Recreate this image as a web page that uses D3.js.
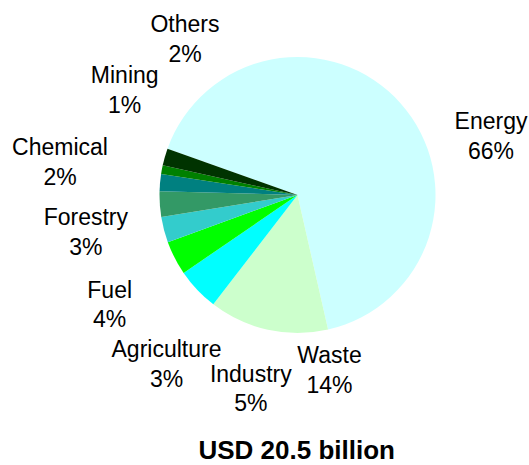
<!DOCTYPE html>
<html>
<head>
<meta charset="utf-8">
<script src="https://cdn.jsdelivr.net/npm/d3@7/dist/d3.min.js"></script>
<style>
  html, body { margin: 0; padding: 0; background: #fff; }
  svg { display: block; }
  text { font-family: Arial, "Liberation Sans", Helvetica, sans-serif; fill: #000; }
</style>
</head>
<body>
<svg id="chart" width="529" height="465"></svg>
<script>
// Sectors and their share of the total (percent)
const sectors = ["Energy", "Waste", "Industry", "Fuel", "Agriculture", "Forestry", "Chemical", "Mining", "Others"];
const shares  = [66, 14, 5, 4, 3, 3, 2, 1, 2];
const colors  = ["#CCFFFF", "#CCFFCC", "#00FFFF", "#00FF00", "#33CCCC", "#339966", "#008080", "#008000", "#003300"];
const totalLabel = "USD 20.5 billion";

// Label anchors (centre x, first baseline y) relative to the pie centre
const labelOffsets = [
  [193.5, -65.7], [32, 168.3], [-46.7, 186.7], [-187.8, 102.7], [-131, 162.3],
  [-211.7, 30], [-237.5, -40], [-172.8, -111.7], [-112.5, -162.7]
];

const W = 529, H = 465;
const cx = 297.5, cy = 195, R = 138;
const lineGap = 29.7;

const svg = d3.select("#chart");
const g = svg.append("g").attr("transform", `translate(${cx},${cy})`);

const data = sectors.map((s, i) => ({ name: s, value: shares[i], color: colors[i], off: labelOffsets[i] }));

const pie = d3.pie()
  .sort(null)
  .value(d => d.value)
  .startAngle(-70.4 * Math.PI / 180)
  .endAngle(-70.4 * Math.PI / 180 + 2 * Math.PI);

const arc = d3.arc().innerRadius(0).outerRadius(R);

g.selectAll("path.slice")
  .data(pie(data))
  .join("path")
  .attr("class", "slice")
  .attr("d", arc)
  .attr("fill", d => d.data.color);

const labels = g.selectAll("text.lbl")
  .data(data)
  .join("text")
  .attr("class", "lbl")
  .attr("text-anchor", "middle")
  .attr("font-size", 23)
  .attr("transform", d => `translate(${d.off[0]},${d.off[1]})`);

labels.append("tspan").attr("x", 0).attr("y", 0).text(d => d.name);
labels.append("tspan").attr("x", 0).attr("y", lineGap).text(d => d.value + "%");

svg.append("text")
  .attr("x", 296.7)
  .attr("y", 459)
  .attr("text-anchor", "middle")
  .attr("font-size", 26)
  .attr("font-weight", "bold")
  .text(totalLabel);
</script>
</body>
</html>
